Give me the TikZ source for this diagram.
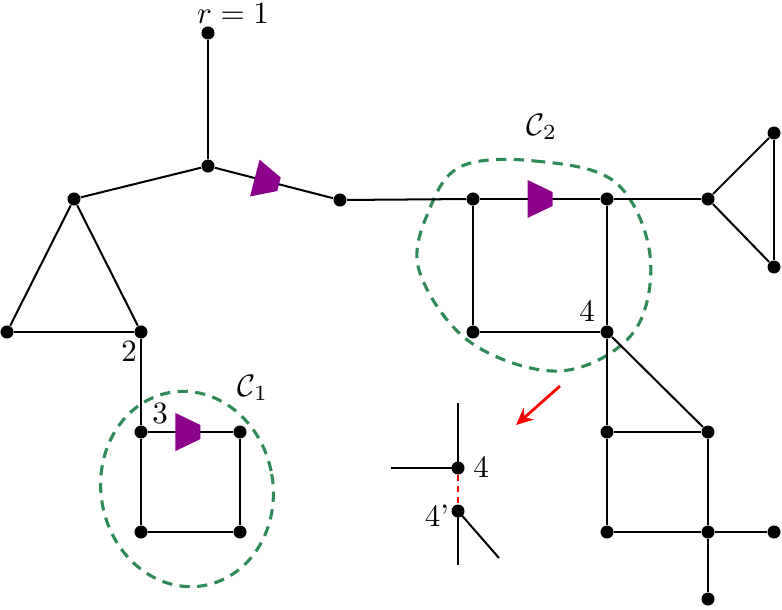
\documentclass[tikz,border=0pt]{standalone}
\usetikzlibrary{decorations.markings,arrows.meta}
\definecolor{flowpurple}{RGB}{140,0,140}
\definecolor{blobgreen}{RGB}{46,139,87}
\begin{document}
\begin{tikzpicture}[x=0.3226pt,y=-0.3226pt,
  dot/.style={circle,fill=black,inner sep=0pt,minimum size=4.2pt},
  edge/.style={line width=0.65pt},
  flow/.style={postaction={decorate,decoration={markings,
     mark=at position #1 with {\fill[flowpurple] (-12.5,-19) -- (12.5,-7) -- (12.5,7) -- (-12.5,19) -- cycle;}}}},
  blob/.style={blobgreen,line width=1pt,dash pattern=on 3.3pt off 2.4pt},
  lab/.style={inner sep=0pt}]
\useasboundingbox (0,0) rectangle (782,609);
% blobs
\draw[blob] plot[smooth cycle, tension=0.6] coordinates {(462,166) (535,161) (615,182) (650,255) (633,333) (560,371) (470,342) (419,270) (430,208)};
\draw[blob, rotate around={10:(187,489)}] (187,489) ellipse [x radius=86, y radius=98];
% nodes
\node[dot] (r) at (208,33) {};
\node[dot] (A) at (208,166) {};
\node[dot] (T) at (74,199) {};
\node[dot] (L) at (7,332) {};
\node[dot] (n2) at (141,332) {};
\node[dot] (B) at (340,200) {};
\node[dot] (TL) at (473,199) {};
\node[dot] (TR) at (607,199) {};
\node[dot] (BL) at (473,332) {};
\node[dot] (n4) at (607,332) {};
\node[dot] (V) at (708,199) {};
\node[dot] (Vt) at (774,133) {};
\node[dot] (Vb) at (774,267) {};
\node[dot] (a1) at (607,432) {};
\node[dot] (b1) at (708,432) {};
\node[dot] (a2) at (607,532) {};
\node[dot] (b2) at (708,532) {};
\node[dot] (c2) at (774,532) {};
\node[dot] (d2) at (708,599) {};
\node[dot] (n3) at (141,432) {};
\node[dot] (s1) at (240,432) {};
\node[dot] (s3) at (141,532) {};
\node[dot] (s4) at (240,532) {};
% inset
\node[dot] (i4) at (458,468) {};
\node[dot] (i4p) at (458,511) {};
\coordinate (iu) at (458,403);
\coordinate (il) at (391,468);
\coordinate (id) at (458,565);
\coordinate (idg) at (499,558);
% edges
\draw[edge] (r) -- (A);
\draw[edge] (A) -- (T);
\draw[edge,flow=0.44] (A) -- (B);
\draw[edge] (T) -- (L);
\draw[edge] (T) -- (n2);
\draw[edge] (L) -- (n2);
\draw[edge] (n2) -- (n3);
\draw[edge] (B) -- (TL);
\draw[edge,flow=0.5] (TL) -- (TR);
\draw[edge] (TL) -- (BL);
\draw[edge] (TR) -- (n4);
\draw[edge] (BL) -- (n4);
\draw[edge] (TR) -- (V);
\draw[edge] (V) -- (Vt);
\draw[edge] (V) -- (Vb);
\draw[edge] (Vt) -- (Vb);
\draw[edge] (n4) -- (a1);
\draw[edge] (n4) -- (b1);
\draw[edge] (a1) -- (b1);
\draw[edge] (a1) -- (a2);
\draw[edge] (b1) -- (b2);
\draw[edge] (a2) -- (b2);
\draw[edge] (b2) -- (c2);
\draw[edge] (b2) -- (d2);
\draw[edge,flow=0.47] (n3) -- (s1);
\draw[edge] (n3) -- (s3);
\draw[edge] (s1) -- (s4);
\draw[edge] (s3) -- (s4);
\draw[edge] (i4.center) -- (iu);
\draw[edge] (i4.center) -- (il);
\draw[edge] (i4p.center) -- (id);
\draw[edge] (i4p.center) -- (idg);
\draw[red,line width=0.55pt,dash pattern=on 2pt off 1.5pt] (i4) -- (i4p);
% red arrow
\coordinate (ra) at (560,386);
\coordinate (rb) at (516,425);
\draw[red,line width=0.9pt,-{Stealth[length=5.5pt,width=5pt]}] (ra) -- (rb);
% labels
\node[lab] (lr) at (233,14) {$r=1$};
\node[lab] (l2) at (129,352) {$2$};
\node[lab] (l3) at (160,414) {$3$};
\node[lab] (l4) at (587,312) {$4$};
\node[lab] (lc1) at (253,388) {$\mathcal{C}_1$};
\node[lab] (lc2) at (542,127) {$\mathcal{C}_2$};
\node[lab] (li4) at (481,468) {$4$};
\node[lab] (li4p) at (437,516) {4'};
\end{tikzpicture}
\end{document}
